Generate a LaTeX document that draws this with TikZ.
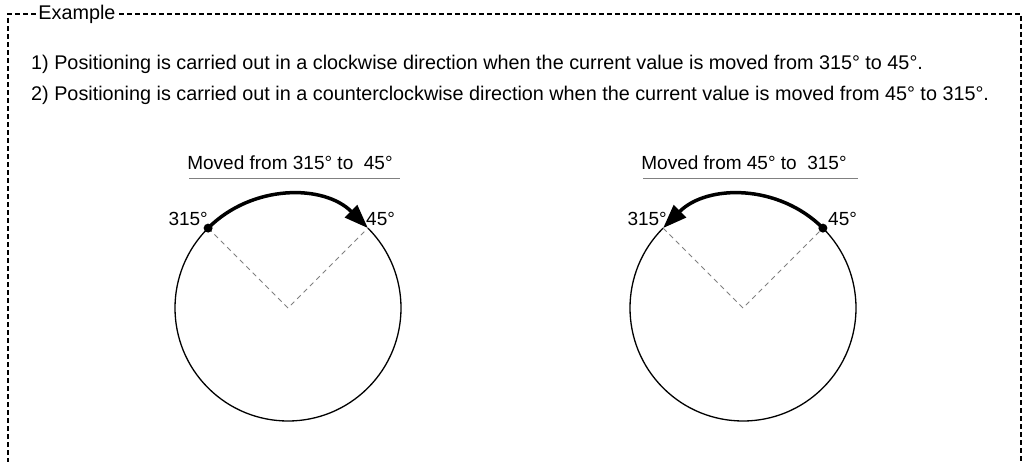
\documentclass[tikz,border=0pt]{standalone}
\usepackage{fontspec}
\setmainfont{Liberation Sans}
\usetikzlibrary{arrows.meta}
\begin{document}
\begin{tikzpicture}[x=1pt,y=1pt,
  frame/.style={line width=1.2pt, dash pattern=on 5pt off 3pt},
  txt/.style={font=\fontsize{19.8}{24}\selectfont, inner sep=0pt},
  lab/.style={font=\fontsize{19}{23}\selectfont, inner sep=0pt},
  circ/.style={line width=1.3pt},
  radial/.style={gray, line width=0.8pt, dash pattern=on 5pt off 4pt},
  move/.style={line width=3.5pt, -{Triangle[length=24pt,width=17pt]}},
  rule/.style={gray, line width=1pt},
  dot/.style={circle, fill=black, inner sep=0pt, minimum size=9pt}]
\useasboundingbox (0,0) rectangle (1025,461);
\begin{scope}
\clip (0,0) rectangle (1025,461);
\draw[frame] (8,-10) -- (8,447) -- (1021,447) -- (1021,-10);
\end{scope}
\node[txt, fill=white, inner xsep=1pt, inner ysep=3pt] (ex) at (77,447) {Example};
\node[txt, anchor=west] (l1) at (31,397) {1) Positioning is carried out in a clockwise direction when the current value is moved from 315° to 45°.};
\node[txt, anchor=west] (l2) at (31,366) {2) Positioning is carried out in a counterclockwise direction when the current value is moved from 45° to 315°.};
% left diagram
\coordinate (c1) at (288,153);
\path (c1) ++(135:113) coordinate (p1) (c1) ++(45:113) coordinate (q1);
\node[lab] (t1) at (290,298) {Moved from 315° to \ 45°};
\draw[rule] (189,282) coordinate (u1a) -- (400,282) coordinate (u1b);
\draw[circ] (q1) arc[start angle=45, end angle=-225, radius=113];
\draw[radial] (p1) -- (c1) -- (q1);
\draw[move] (p1) arc[start angle=135, end angle=45, radius=113];
\node[dot] (d1) at (p1) {};
\node[lab, anchor=east] (lp1) at (208,242) {315°};
\node[lab, anchor=west] (lq1) at (366,242) {45°};
% right diagram
\coordinate (c2) at (743,153);
\path (c2) ++(135:113) coordinate (p2) (c2) ++(45:113) coordinate (q2);
\node[lab] (t2) at (744,298) {Moved from 45° to \ 315°};
\draw[rule] (643,282) coordinate (u2a) -- (858,282) coordinate (u2b);
\draw[circ] (q2) arc[start angle=45, end angle=-225, radius=113];
\draw[radial] (p2) -- (c2) -- (q2);
\draw[move] (q2) arc[start angle=45, end angle=135, radius=113];
\node[dot] (d2) at (q2) {};
\node[lab, anchor=east] (lp2) at (667,242) {315°};
\node[lab, anchor=west] (lq2) at (828,242) {45°};
\end{tikzpicture}
\end{document}
